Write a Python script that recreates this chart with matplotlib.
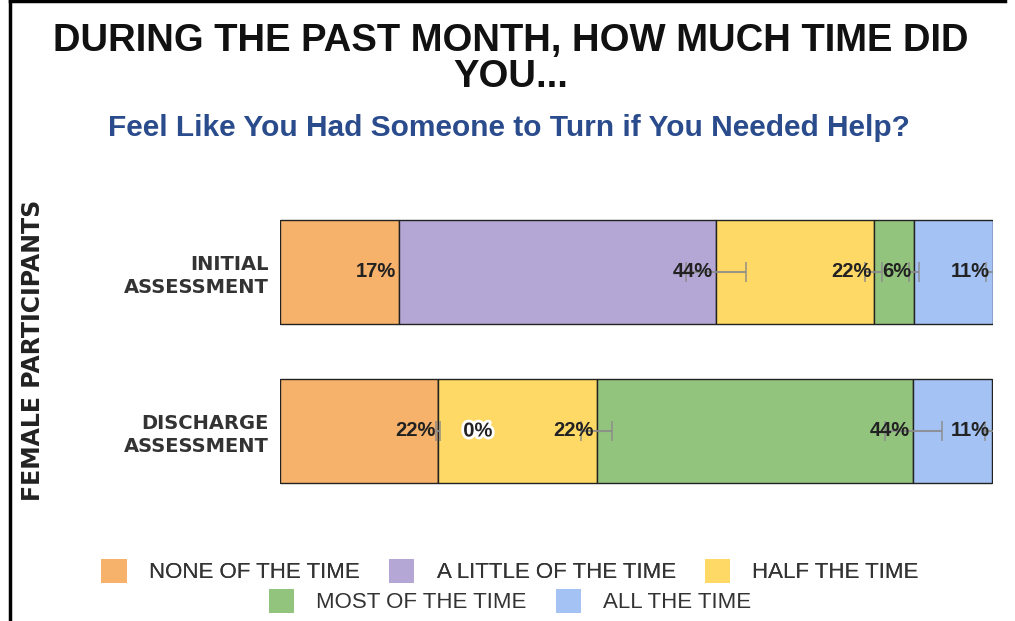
import matplotlib
matplotlib.use("Agg")
import matplotlib.pyplot as plt
import matplotlib.patheffects as pe
from matplotlib.patches import Patch
import numpy as np

categories = ["INITIAL\nASSESSMENT", "DISCHARGE\nASSESSMENT"]
series = ["NONE OF THE TIME", "A LITTLE OF THE TIME", "HALF THE TIME",
          "MOST OF THE TIME", "ALL THE TIME"]
values = {
    "NONE OF THE TIME":     [16.7, 22.2],
    "A LITTLE OF THE TIME": [44.4, 0.0],
    "HALF THE TIME":        [22.2, 22.2],
    "MOST OF THE TIME":     [5.6, 44.4],
    "ALL THE TIME":         [11.1, 11.1],
}
labels = {
    "NONE OF THE TIME":     ["17%", "22%"],
    "A LITTLE OF THE TIME": ["44%", "0%"],
    "HALF THE TIME":        ["22%", "22%"],
    "MOST OF THE TIME":     ["6%", "44%"],
    "ALL THE TIME":         ["11%", "11%"],
}
errors = {
    "NONE OF THE TIME":     [0.0, 0.3],
    "A LITTLE OF THE TIME": [4.2, 0.0],
    "HALF THE TIME":        [1.2, 2.2],
    "MOST OF THE TIME":     [0.7, 4.0],
    "ALL THE TIME":         [1.0, 1.0],
}
colors = ["#F6B26B", "#B4A7D6", "#FFD966", "#93C47D", "#A4C2F4"]

SANS = ["Liberation Sans", "DejaVu Sans"]
WIDE = ["DejaVu Sans"]

fig = plt.figure(figsize=(10.15, 6.21), dpi=100)
ax = fig.add_axes([280/1015, 1-510.5/621, 713/1015, 318/621])

y = np.arange(len(categories))
left = np.zeros(len(categories))
for s, c in zip(series, colors):
    v = np.array(values[s])
    ax.barh(y, v, left=left, height=0.66, color=c, edgecolor="#222222",
            linewidth=1.0, zorder=2)
    ends = left + v
    err = np.array(errors[s])
    m = err > 0
    if m.any():
        ax.errorbar(ends[m], y[m], xerr=err[m], fmt="none", ecolor="#8a8a8a",
                    elinewidth=1.5, capsize=7, capthick=1.2, zorder=3, alpha=0.85)
    for i in range(len(categories)):
        if v[i] == 0:
            t = ax.annotate(labels[s][i], (ends[i], y[i]), xytext=(18, 0),
                            textcoords="offset points", ha="left", va="center",
                            fontsize=14.5, fontweight="bold", family=SANS,
                            color="#222222", zorder=5)
            t.set_path_effects([pe.withStroke(linewidth=4, foreground="white")])
        else:
            ax.annotate(labels[s][i], (ends[i], y[i]), xytext=(-2, 0),
                        textcoords="offset points", ha="right", va="center",
                        fontsize=14.5, fontweight="bold", family=SANS,
                        color="#222222", zorder=5)
    left = ends

ax.set_xlim(0, 100)
ax.set_ylim(1.5, -0.5)
ax.set_yticks(y)
ax.set_yticklabels(categories, fontsize=14, fontweight="bold", family=WIDE,
                   color="#333333", linespacing=1.25)
ax.tick_params(axis="y", length=0, pad=8)
ax.set_xticks([])
for sp in ax.spines.values():
    sp.set_visible(False)

fig.text(33/1015, 1-350/621, "FEMALE PARTICIPANTS", rotation=90, ha="center",
         va="center", fontsize=17, fontweight="bold", family=WIDE, color="#222222")

fig.text(511/1015, 1-59/621, "DURING THE PAST MONTH, HOW MUCH TIME DID\nYOU...",
         ha="center", va="center", fontsize=27.5, fontweight="bold", family=SANS,
         color="#111111", linespacing=1.0)
fig.text(509/1015, 1-128/621, "Feel Like You Had Someone to Turn if You Needed Help?",
         ha="center", va="center", fontsize=21.5, family=SANS, color="#2B4C8C",
         fontweight="bold")

handles = [Patch(facecolor=c, edgecolor="none") for c in colors]
leg_kw = dict(loc="center", frameon=False, prop={"family": SANS, "size": 16},
              handlelength=1.15, handleheight=1.3, columnspacing=1.3,
              handletextpad=1.0, labelcolor="#333333")
leg1 = fig.legend(handles[:3], series[:3], ncol=3,
                  bbox_to_anchor=(510/1015, 1-571/621), **leg_kw)
fig.add_artist(leg1)
fig.legend(handles[3:], series[3:], ncol=2,
           bbox_to_anchor=(510/1015, 1-601/621), **leg_kw)

# frame lines (left and top)
fig.add_artist(plt.Line2D([10/1015, 10/1015], [0, 1], color="black", lw=2.5,
                          transform=fig.transFigure))
fig.add_artist(plt.Line2D([10/1015, 1005/1015], [1-1/621, 1-1/621], color="black",
                          lw=2.5, transform=fig.transFigure))

fig.savefig("out.png", dpi=100)
